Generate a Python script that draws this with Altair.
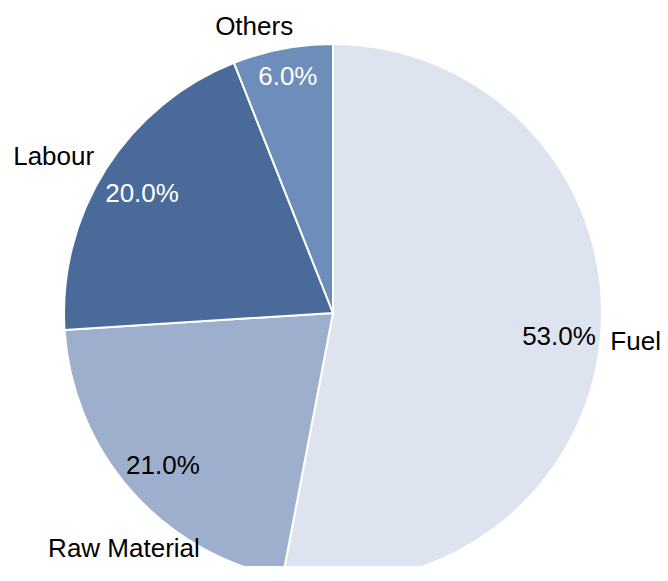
import altair as alt
import pandas as pd

categories = ["Fuel", "Raw Material", "Labour", "Others"]
shares = [53.0, 21.0, 20.0, 6.0]
pct_labels = ["53.0%", "21.0%", "20.0%", "6.0%"]
slice_colors = ["#dde4ef", "#9dafcd", "#4a6a9a", "#6d8dba"]
pct_text_colors = ["#000000", "#000000", "#ffffff", "#ffffff"]

# styling: label radii (pixels from pie centre) and small nudges
outer_radius_by_cat = {"Fuel": 307, "Raw Material": 332, "Labour": 319, "Others": 298}
outer_nudge_by_cat = {"Fuel": (-3, 0), "Raw Material": (40, 16), "Labour": (-10, 15), "Others": (-23, 7)}
inner_radius_by_cat = {"Fuel": 222, "Raw Material": 228, "Labour": 225, "Others": 241}
inner_nudge_by_cat = {"Fuel": (5, 3), "Raw Material": (1, 2), "Labour": (-1, 2), "Others": (0, 1)}

df = pd.DataFrame({
    "category": categories,
    "share": shares,
    "pct": pct_labels,
    "order": list(range(len(categories))),
})
TOTAL = sum(shares)

CX, CY, R = 325, 305, 269
FONT = "Liberation Sans"
FS = 26

pie = alt.Chart(df).mark_arc(outerRadius=R, stroke="white", strokeWidth=2).encode(
    theta=alt.Theta("share:Q", stack=True),
    order=alt.Order("order:Q"),
    color=alt.Color("category:N", scale=alt.Scale(domain=categories, range=slice_colors), legend=None),
    x=alt.value(CX),
    y=alt.value(CY),
)


def text_layer(cat, radius, nudge, field, color):
    return (
        alt.Chart(df)
        .transform_stack(stack="share", as_=["s0", "s1"], groupby=[], sort=[alt.SortField("order")])
        .transform_calculate(mid="(datum.s0 + datum.s1) / 2")
        .transform_filter(alt.datum.category == cat)
        .mark_text(radius=radius, dx=nudge[0], dy=nudge[1], font=FONT, fontSize=FS, color=color,
                   align="center", baseline="middle")
        .encode(
            theta=alt.Theta("mid:Q", scale=alt.Scale(domain=[0, TOTAL])),
            text=alt.Text(field + ":N"),
            x=alt.value(CX),
            y=alt.value(CY),
        )
    )


layers = [pie]
for cat, col in zip(categories, pct_text_colors):
    layers.append(text_layer(cat, inner_radius_by_cat[cat], inner_nudge_by_cat[cat], "pct", col))
    layers.append(text_layer(cat, outer_radius_by_cat[cat], outer_nudge_by_cat[cat], "category", "#000000"))

chart = alt.layer(*layers).properties(
    width=652, height=558, padding=0, autosize=alt.AutoSizeParams(type="none")
).configure_view(stroke=None)

chart.save("out.html", embed_options={"renderer": "svg", "actions": False})
